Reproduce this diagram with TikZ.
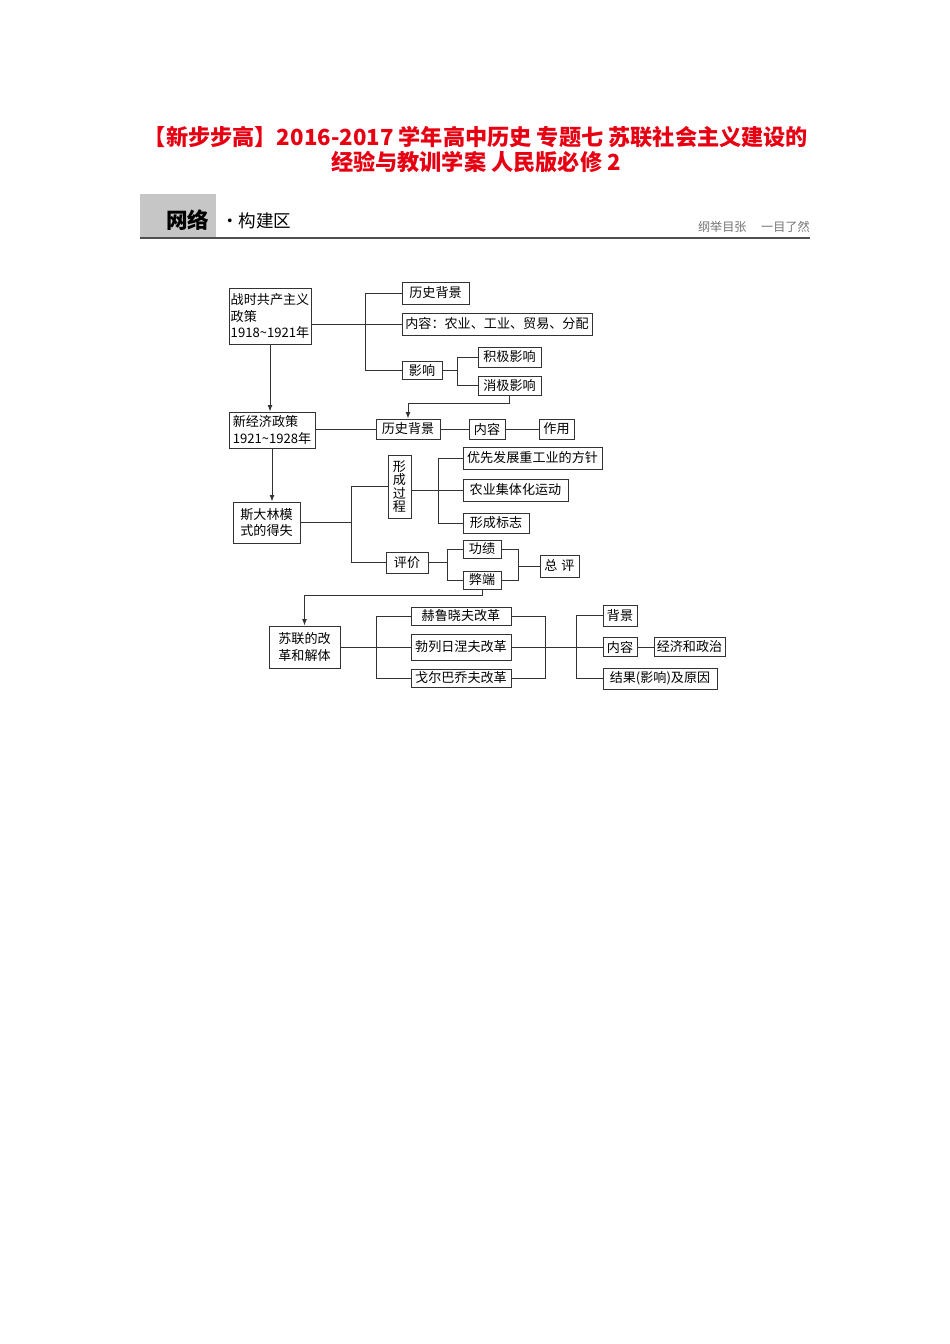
\documentclass[tikz,border=0pt]{standalone}
\usepackage{fontspec}
\usepackage{tikz}
\usetikzlibrary{arrows.meta}
\newfontfamily\cjk{Noto Sans CJK SC}
\newlength{\pxu}
\setlength{\pxu}{0.6266pt}
\definecolor{titlered}{RGB}{230,0,18}
\definecolor{bargray}{RGB}{198,198,198}
\definecolor{rulegray}{RGB}{80,80,80}

\tikzset{
  bx/.style 2 args={draw=black!80, line width=0.6pt, inner sep=0pt,
    minimum width=#1*\pxu, minimum height=#2*\pxu,
    font=\cjk\fontsize{8.2}{10.4}\selectfont},
  ln/.style={draw=black!80, line width=0.6pt},
  arr/.style={ln, -{Latex[length=4pt,width=3pt]}}
}

\begin{document}
\begin{tikzpicture}[x=\pxu, y=-\pxu]
    \useasboundingbox (0,0) rectangle (950,1344);
    % title
    \node[text=titlered, font=\cjk\bfseries\fontsize{13.9}{17}\selectfont] (title1) at (476,137) {【新步步高】2016-2017 学年高中历史 专题七 苏联社会主义建设的};
    \node[text=titlered, font=\cjk\bfseries\fontsize{13.9}{17}\selectfont] (title2) at (476,162) {经验与教训学案 人民版必修 2};
    % header bar
    \fill[bargray] (140,194) rectangle (216,237);
    \draw[rulegray, line width=1.3pt] (140,238) -- (810,238);
    \node[font=\cjk\bfseries\fontsize{13.5}{14}\selectfont, anchor=west, inner sep=0pt] (wl) at (166,220) {网络};
    \node[font=\cjk\fontsize{11}{12}\selectfont, anchor=west, inner sep=0pt] (gjq) at (221,221) {·构建区};
    \node[font=\cjk\fontsize{7.6}{8}\selectfont, text=black!55, anchor=east, inner sep=0pt] (motto) at (810,227) {纲举目张\hspace{1.2em}一目了然};

    % bracket columns
    \coordinate (kA) at (365,0);
    \coordinate (kB) at (457,0);
    \coordinate (kC) at (351,0);
    \coordinate (kD) at (438,0);
    \coordinate (kE) at (447,0);
    \coordinate (kF) at (518,0);
    \coordinate (kG) at (376,0);
    \coordinate (kH) at (545,0);
    \coordinate (kI) at (576,0);

    % war communism
    \node[bx={82}{56}, align=left] (zsgc) at (270,316) {战时共产主义\\政策\\1918\textasciitilde1921年};
    \node[bx={67}{22}] (bjA) at (435.5,293) {历史背景};
    \node[bx={190}{22}] (nrA) at (497,324) {内容：农业、工业、贸易、分配};
    \node[bx={40}{18}] (yx) at (422,370.5) {影响};
    \node[bx={63}{20}] (jj) at (509.5,357) {积极影响};
    \node[bx={63}{19}] (xj) at (509.5,385.5) {消极影响};
    % new economic policy
    \node[bx={86}{36}, align=left] (xjj) at (272,430) {新经济政策\\1921\textasciitilde1928年};
    \node[bx={64}{20}] (bjB) at (408,429) {历史背景};
    \node[bx={36}{20}] (nrB) at (487,429) {内容};
    \node[bx={35}{20}] (zy) at (556.5,429) {作用};
    % stalin model
    \node[bx={67}{41}, align=center] (dls) at (266.5,522.5) {斯大林模\\式的得失};
    \node[bx={23}{63}, align=center, font=\cjk\fontsize{8.2}{8.5}\selectfont] (xcgc) at (399.5,486.5) {形\\成\\过\\程};
    \node[bx={139}{22}] (yxfz) at (532.5,458) {优先发展重工业的方针};
    \node[bx={105}{22}] (nyjt) at (515.5,490) {农业集体化运动};
    \node[bx={66}{20}] (xcbz) at (496,523) {形成标志};
    \node[bx={42}{21}] (pj) at (407,562.5) {评价};
    \node[bx={38}{18}] (gj) at (482,549) {功绩};
    \node[bx={38}{18}] (bd) at (482,580) {弊端};
    \node[bx={39}{22}] (zp) at (559.5,566) {总\hspace{0.3em}评};
    % reform and collapse
    \node[bx={71}{42}, align=center] (sl) at (304.5,647) {苏联的改\\革和解体};
    \node[bx={100}{18}] (hlx) at (461,616) {赫鲁晓夫改革};
    \node[bx={100}{26}] (blr) at (461,647) {勃列日涅夫改革};
    \node[bx={100}{18}] (gbq) at (461,678) {戈尔巴乔夫改革};
    \node[bx={34}{21}] (bj) at (620,615.5) {背景};
    \node[bx={34}{19}] (nrD) at (620,647) {内容};
    \node[bx={71}{19}] (jjzz) at (689.5,647) {经济和政治};
    \node[bx={114}{21}] (jg) at (660,678.5) {结果(影响)及原因};

    % connectors
    \draw[ln] (zsgc.east |- nrA.west) -- (nrA.west);
    \draw[ln] (bjA.west) -| (kA |- yx.west) -- (yx.west);
    \draw[ln] (yx.east) -- (kB |- yx.east);
    \draw[ln] (jj.west) -| (kB |- xj.west) -- (xj.west);
    \draw[arr] (xj.south) -- ++(0,8) -| (bjB.north);
    \draw[arr] (zsgc.south) -- (zsgc.south |- xjj.north);
    \draw[ln] (xjj.east |- bjB.west) -- (bjB.west);
    \draw[ln] (bjB.east) -- (nrB.west);
    \draw[ln] (nrB.east) -- (zy.west);
    \draw[arr] (xjj.south) -- (xjj.south |- dls.north);
    \draw[ln] (dls.east) -- (kC |- dls.east);
    \draw[ln] (xcgc.west) -| (kC |- pj.west) -- (pj.west);
    \draw[ln] (xcgc.east |- nyjt.west) -- (nyjt.west);
    \draw[ln] (yxfz.west) -| (kD |- xcbz.west) -- (xcbz.west);
    \draw[ln] (pj.east) -- (kE |- pj.east);
    \draw[ln] (gj.west) -| (kE |- bd.west) -- (bd.west);
    \draw[ln] (gj.east) -| (kF |- bd.east) -- (bd.east);
    \draw[ln] (kF |- zp.west) -- (zp.west);
    \draw[arr] (bd.south) -- ++(0,6) -| (sl.north);
    \draw[ln] (sl.east) -- (blr.west);
    \draw[ln] (hlx.west) -| (kG |- gbq.west) -- (gbq.west);
    \draw[ln] (hlx.east) -| (kH |- gbq.east) -- (gbq.east);
    \draw[ln] (blr.east) -- (nrD.west);
    \draw[ln] (bj.west) -| (kI |- jg.west) -- (jg.west);
    \draw[ln] (nrD.east) -- (jjzz.west);
\end{tikzpicture}
\end{document}
